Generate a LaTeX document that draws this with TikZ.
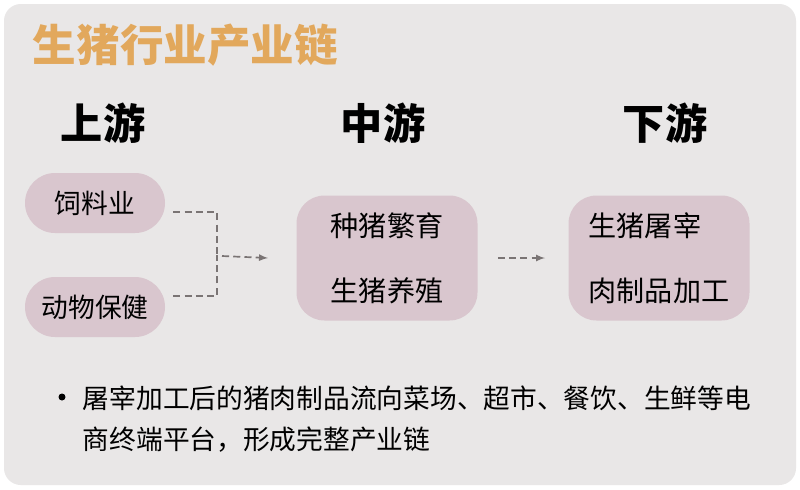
\documentclass[tikz,border=0pt]{standalone}
\usepackage{fontspec}
\setmainfont{Noto Sans CJK SC}
\usetikzlibrary{positioning}
\definecolor{bggray}{HTML}{E9E7E7}
\definecolor{titlegold}{HTML}{E2A85C}
\definecolor{boxpink}{HTML}{D9C6CE}
\definecolor{dashgray}{HTML}{7A7474}
\begin{document}
\begin{tikzpicture}[x=0.025cm,y=-0.025cm,
  stage/.style={font=\fontsize{30}{34}\selectfont\bfseries},
  pill/.style={fill=boxpink,rounded corners=30*0.025cm,minimum width=140*0.025cm,minimum height=60*0.025cm,font=\fontsize{19}{22}\selectfont},
  bigbox/.style={fill=boxpink,rounded corners=28*0.025cm,minimum width=181*0.025cm,minimum height=125*0.025cm,align=left,font=\fontsize{20}{46}\selectfont},
  link/.style={draw=dashgray,line width=1.2pt,dash pattern=on 5pt off 3pt},
  arr/.style={link,-latex}]
\useasboundingbox (0,0) rectangle (800,489);
\fill[white] (0,0) rectangle (800,489);
\fill[bggray,rounded corners=12] (4,4) rectangle (796,485);
% title and stages
\node[anchor=west,text=titlegold,font=\fontsize{31}{34}\selectfont\bfseries] (title) at (28,45) {生猪行业产业链};
\node[stage] (up) at (103,123) {上游};
\node[stage] (mid) at (383,123) {中游};
\node[stage] (down) at (665,123) {下游};
% boxes
\node[pill] (feed) at (95,203) {饲料业};
\node[pill] (health) at (95,307) {动物保健};
\node[bigbox] (breed) at (387,258) {种猪繁育\\生猪养殖};
\node[bigbox] (proc) at (659,258) {生猪屠宰\\肉制品加工};
% connectors
\coordinate (join) at (217,255);
\draw[link] (feed.east) ++(8,9) -| (join);
\draw[link] (health.east) ++(8,-11) -| (join);
\draw[arr] (222,256) -- (breed.west -| 268,0);
\draw[arr] (breed.east) ++(20,0) -- (545,258);
% note
\fill (62,397) circle (3.5);
\node[anchor=north west,align=left,font=\fontsize{19}{29}\selectfont] (note) at (78,381) {屠宰加工后的猪肉制品流向菜场、超市、餐饮、生鲜等电\\商终端平台，形成完整产业链};
\end{tikzpicture}
\end{document}
